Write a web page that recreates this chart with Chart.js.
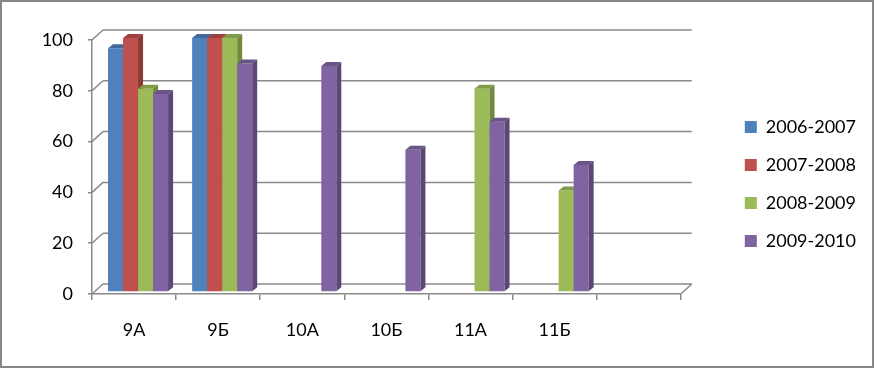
<!DOCTYPE html>
<html>
<head>
<meta charset="utf-8">
<script src="https://cdn.jsdelivr.net/npm/chart.js@4"></script>
<style>
body { margin: 0; background: #fff; }
</style>
</head>
<body>
<canvas id="graph" width="874" height="368"></canvas>
<script>
// classes and results per school year
var classes = ['9А', '9Б', '10А', '10Б', '11А', '11Б', ''];
var years = ['2006-2007', '2007-2008', '2008-2009', '2009-2010'];
var y2006 = [96, 100, null, null, null, null, null];
var y2007 = [100, 100, null, null, null, null, null];
var y2008 = [80, 100, null, null, 80, 40, null];
var y2009 = [78, 90, 89, 56, 67, 50, null];
var yTicks = [0, 20, 40, 60, 80, 100];

var front = ['#4f81bd', '#c0504d', '#9bbb59', '#8064a2'];
var side = ['#385d8a', '#8c3836', '#71893f', '#5c4776'];
var top_ = ['#41699b', '#a0403e', '#809c4a', '#6a5387'];
var gris = '#8a8a8a';

var DX = 11, DY = 10;   // depth of the back wall
var BX = 5, BY = 4;     // depth of a bar

function line(ctx, x1, y1, x2, y2){
	ctx.beginPath();
	ctx.moveTo(x1, y1);
	ctx.lineTo(x2, y2);
	ctx.stroke();
}

function poly(ctx, pts, col){
	ctx.fillStyle = col;
	ctx.beginPath();
	ctx.moveTo(pts[0], pts[1]);
	for (var i = 2; i < pts.length; i += 2) ctx.lineTo(pts[i], pts[i+1]);
	ctx.closePath();
	ctx.fill();
}

var cadre = {
	id: 'cadre',
	afterDraw: function(chart){
		var ctx = chart.ctx;
		ctx.save();
		ctx.strokeStyle = '#868686';
		ctx.lineWidth = 2;
		ctx.strokeRect(1, 1, chart.width - 2, chart.height - 2);
		ctx.restore();
	}
};

var relief = {
	id: 'relief',
	beforeDatasetsDraw: function(chart){
		var ctx = chart.ctx, ys = chart.scales.y, area = chart.chartArea;
		ctx.save();
		ctx.strokeStyle = gris;
		ctx.lineWidth = 1.5;
		yTicks.forEach(function(v){
			var y = ys.getPixelForValue(v);
			line(ctx, area.left, y, area.left + DX, y - DY);
			line(ctx, area.left + DX, y - DY, area.right + DX, y - DY);
		});
		line(ctx, area.right, area.bottom, area.right + DX, area.bottom - DY);

		ctx.translate(4, -2);
		for (var i = 0; i < classes.length; i++){
			for (var d = 0; d < chart.data.datasets.length; d++){
				if (chart.data.datasets[d].data[i] == null) continue;
				var el = chart.getDatasetMeta(d).data[i];
				var l = el.x - el.width / 2, r = el.x + el.width / 2, t = el.y, b = el.base;
				poly(ctx, [l, t, r, t, r, b, l, b], front[d]);
				poly(ctx, [l, t, l + BX, t - BY, r + BX, t - BY, r, t], top_[d]);
				poly(ctx, [r, t, r + BX, t - BY, r + BX, b - BY, r, b], side[d]);
			}
		}
		ctx.restore();
		return false;
	}
};

Chart.defaults.font.family = "Lato, 'Noto Sans', sans-serif";
Chart.defaults.font.size = 18;
Chart.defaults.color = '#000';

var series = [y2006, y2007, y2008, y2009];
var datasets = series.map(function(s, k){
	return {
		label: years[k],
		data: s,
		backgroundColor: front[k],
		borderWidth: 0,
		xAxisID: 'x',
		yAxisID: 'y'
	};
});

var ctx = document.getElementById('graph').getContext('2d');
var myChart = new Chart(ctx, {
	type: 'bar',
	data: {
		labels: classes,
		datasets: datasets
	},
	plugins: [relief, cadre],
	options: {
		responsive: false,
		animation: false,
		events: [],
		layout: { padding: { left: 0, top: 0, bottom: 0, right: 8 } },
		datasets: { bar: { categoryPercentage: 0.714, barPercentage: 1 } },
		scales: {
			x: {
				type: 'category',
				position: 'bottom',
				offset: true,
				grid: { offset: true, drawOnChartArea: false, tickLength: 6, color: gris, lineWidth: 1.5 },
				border: { color: gris, width: 1.5 },
				ticks: { padding: 19, font: { size: 18 } },
				afterFit: function(s){ s.height = 74; }
			},
			xHaut: {
				type: 'category',
				position: 'top',
				ticks: { display: false },
				grid: { display: false },
				border: { display: false },
				afterFit: function(s){ s.height = 40; }
			},
			y: {
				type: 'linear',
				position: 'left',
				min: 0,
				max: 100,
				ticks: { stepSize: 20, padding: 15, font: { size: 18 } },
				grid: { drawOnChartArea: false, tickLength: 4, color: gris, lineWidth: 1.5 },
				border: { color: gris, width: 1.5 },
				afterFit: function(s){ s.width = 92; }
			},
			yDroite: {
				type: 'linear',
				position: 'right',
				ticks: { display: false },
				grid: { display: false },
				border: { display: false },
				afterFit: function(s){ s.width = 44; }
			}
		},
		plugins: {
			tooltip: { enabled: false },
			legend: {
				position: 'right',
				align: 'center',
				labels: { boxWidth: 12, boxHeight: 12, padding: 20, color: '#000', font: { size: 18 } }
			}
		}
	}
});
</script>
</body>
</html>
